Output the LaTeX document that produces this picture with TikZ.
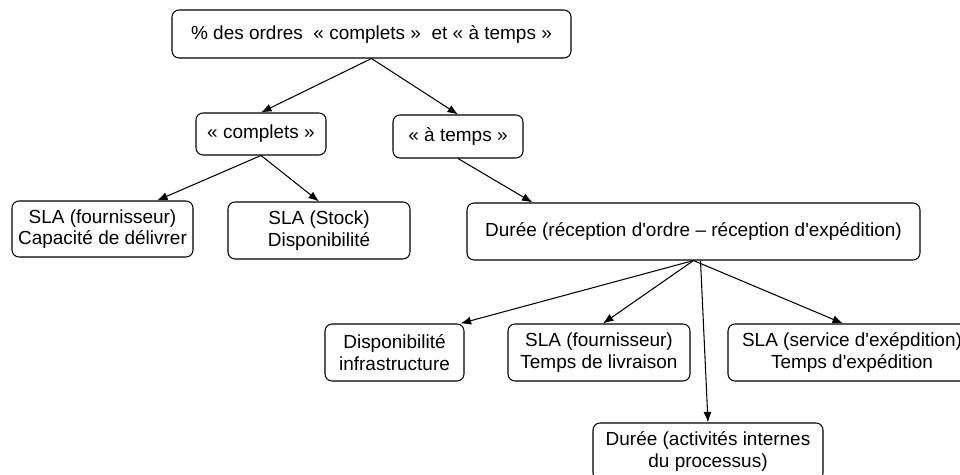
\documentclass[tikz,border=0pt]{standalone}
\usepackage{fontspec}
\newfontfamily\arialfont{Liberation Sans}
\usepackage{tikz}
\usetikzlibrary{arrows.meta}
\tikzset{
  boite/.style={draw=black, line width=0.6pt, rounded corners=4pt, align=center,
    inner sep=0pt, font=\arialfont\fontsize{10.8}{12.2}\selectfont},
  fleche/.style={-{Latex[length=6pt,width=4.6pt]}, line width=0.6pt}
}

\begin{document}
\begin{tikzpicture}
  \clip (0,0) rectangle (19.2,9.5);
  \useasboundingbox (0,0) rectangle (19.2,9.5);

	%# OBJECTIF
  \node[boite, minimum width=7.98cm, minimum height=0.96cm] (objectif) at (7.43,8.82) {\%{} des ordres\ \ « complets »\ \ et « à temps »};

	%# NIVEAU 1
  \node[boite, minimum width=2.6cm, minimum height=0.84cm] (complets) at (5.22,6.82) {« complets »};
  \node[boite, minimum width=2.6cm, minimum height=0.86cm] (atemps) at (9.16,6.77) {« à temps »};

	%# NIVEAU 2
  \node[boite, minimum width=3.62cm, minimum height=1.12cm] (fourn) at (2.05,4.92) {SLA (fournisseur)\\Capacité de délivrer};
  \node[boite, minimum width=3.64cm, minimum height=1.14cm] (stock) at (6.38,4.89) {SLA (Stock)\\Disponibilité};
  \node[boite, minimum width=9.06cm, minimum height=1.14cm] (duree) at (13.87,4.87) {Durée (réception d'ordre – réception d'expédition)};

	%# NIVEAU 3
  \node[boite, minimum width=2.78cm, minimum height=1.14cm] (dispo) at (7.89,2.45) {Disponibilité\\infrastructure};
  \node[boite, minimum width=3.64cm, minimum height=1.14cm] (livraison) at (11.98,2.45) {SLA (fournisseur)\\Temps de livraison};
  \node[boite, minimum width=4.96cm, minimum height=1.14cm] (expedition) at (17.04,2.45) {SLA (service d'exépdition)\\Temps d'expédition};
  \node[boite, minimum width=4.6cm, minimum height=1.14cm] (processus) at (14.16,0.47) {Durée (activités internes\\du processus)};

	%# FLECHES
  \draw[fleche] (objectif.south) -- (complets.north);
  \draw[fleche] (objectif.south) -- (atemps.north);
  \draw[fleche] (complets.south) -- ([xshift=1.09cm]fourn.north);
  \draw[fleche] (complets.south) -- (stock.north);
  \draw[fleche] (atemps.south) -- ([xshift=1.32cm]duree.north west);
  \draw[fleche] (duree.south) -- ([xshift=-0.08cm]dispo.north east);
  \draw[fleche] (duree.south) -- ([xshift=0.08cm]livraison.north);
  \draw[fleche] (duree.south) -- ([xshift=-0.18cm]expedition.north);
  \draw[fleche] ([xshift=0.14cm]duree.south) -- (processus.north);
\end{tikzpicture}
\end{document}
